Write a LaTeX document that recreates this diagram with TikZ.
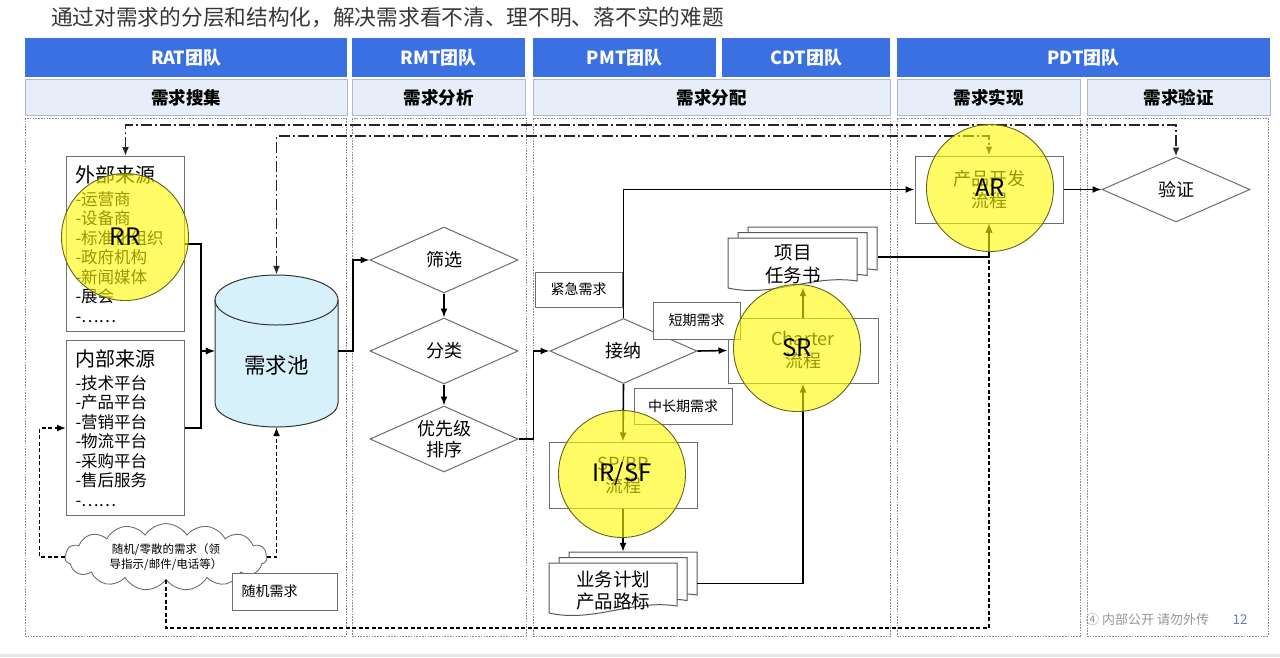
\documentclass[tikz,border=0pt]{standalone}
\usepackage{fontspec}
\setmainfont{Noto Sans CJK SC}
\usetikzlibrary{shapes.geometric,shapes.symbols,arrows.meta}
\newcommand\myfs[2]{\fontsize{#1}{#2}\selectfont}
\newcommand\docpage[4]{\draw[docline] (#1+#3,#2+#4-7) .. controls (#1+0.65*#3,#2+#4-14) and (#1+0.35*#3,#2+#4+10) .. (#1,#2+#4) -- (#1,#2) -- (#1+#3,#2) -- cycle;}
\definecolor{hblue}{RGB}{58,112,226}
\definecolor{sublight}{RGB}{231,238,250}
\definecolor{subborder}{RGB}{175,185,205}
\definecolor{framegray}{RGB}{140,140,140}
\definecolor{boxgray}{RGB}{110,110,110}
\definecolor{poolfill}{RGB}{214,241,250}
\definecolor{hlyellow}{RGB}{255,250,0}
\definecolor{hlborder}{RGB}{100,100,30}
\definecolor{titlegray}{RGB}{55,55,55}
\definecolor{footgray}{RGB}{150,150,150}
\definecolor{pagenum}{RGB}{100,130,180}
\definecolor{barcolor}{RGB}{232,232,232}
\tikzset{
 hdr/.style={fill=hblue, text=white, font=\myfs{18}{20}\bfseries, inner sep=0pt, anchor=north west},
 sub/.style={fill=sublight, draw=subborder, line width=0.8pt, font=\myfs{17.5}{20}\bfseries, inner sep=0pt, anchor=north west},
 colframe/.style={draw=framegray, line width=0.8pt, dash pattern=on 1.6pt off 1.2pt},
 srcbox/.style={draw=boxgray, line width=1pt, fill=white, text width=100pt, align=left, inner sep=9pt, anchor=north west, font=\myfs{16.5}{19.5}},
 dia/.style={diamond, aspect=2.2, draw=boxgray, line width=1pt, fill=white, minimum width=148pt, minimum height=66pt, inner sep=0pt, font=\myfs{18}{21}, align=center},
 proc/.style={draw=boxgray, line width=1pt, fill=white, inner sep=0pt, font=\myfs{18}{22}, align=center},
 lbl/.style={draw=boxgray, line width=1pt, fill=white, inner sep=0pt, font=\myfs{14}{16}},
 ghost/.style={inner sep=0pt},
 arr/.style={draw=black, line width=1.6pt, -{Latex[length=9pt,width=7pt]}},
 darr/.style={arr, dash pattern=on 4pt off 2.5pt},
 ddarr/.style={draw=black!85, line width=1.8pt, dash pattern=on 11pt off 3pt on 2pt off 3pt, {Latex[length=9pt,width=7pt]}-{Latex[length=9pt,width=7pt]}},
 hl/.style={circle, fill=hlyellow, fill opacity=0.6, text opacity=1, draw=hlborder, line width=0.9pt, minimum size=127pt, inner sep=0pt, font=\myfs{24}{26}},
 docline/.style={draw=boxgray!80!black, line width=1pt, fill=white},
 poolline/.style={draw=black!80, line width=1pt},
}
\begin{document}
\begin{tikzpicture}[x=1pt,y=-1pt]
\useasboundingbox (0,0) rectangle (1280,657);
\fill[white] (0,0) rectangle (1280,657);
\fill[barcolor] (0,654) rectangle (1280,657);

% title
\node[anchor=west, font=\myfs{21.7}{24}, text=titlegray, inner sep=0pt] (title) at (51,17) {通过对需求的分层和结构化，解决需求看不清、理不明、落不实的难题};

% header row 1
\node[hdr, minimum width=322pt, minimum height=39pt] (hRAT) at (25,38) {RAT团队};
\node[hdr, minimum width=173pt, minimum height=39pt] (hRMT) at (352,38) {RMT团队};
\node[hdr, minimum width=183pt, minimum height=39pt] (hPMT) at (533,38) {PMT团队};
\node[hdr, minimum width=168pt, minimum height=39pt] (hCDT) at (722,38) {CDT团队};
\node[hdr, minimum width=373pt, minimum height=39pt] (hPDT) at (897,38) {PDT团队};
% header row 2
\node[sub, minimum width=322pt, minimum height=36pt] (s1) at (25,79) {需求搜集};
\node[sub, minimum width=173pt, minimum height=36pt] (s2) at (352,79) {需求分析};
\node[sub, minimum width=357pt, minimum height=36pt] (s3) at (533,79) {需求分配};
\node[sub, minimum width=183pt, minimum height=36pt] (s4) at (897,79) {需求实现};
\node[sub, minimum width=183pt, minimum height=36pt] (s5) at (1087,79) {需求验证};

% column frames
\draw[colframe] (25,118) rectangle (346,636);
\draw[colframe] (352,118) rectangle (526,636);
\draw[colframe] (533,118) rectangle (890,636);
\draw[colframe] (897,118) rectangle (1080,636);
\draw[colframe] (1087,118) rectangle (1268,636);

% sources
\node[srcbox, minimum height=172pt] (ext) at (66,156) {{\myfs{20}{22}外部来源}\\[3.5pt]-运营商\\-设备商\\-标准化组织\\-政府机构\\-新闻媒体\\-展会\\-……};
\node[srcbox, minimum height=173pt] (int) at (66,340) {{\myfs{20}{22}内部来源}\\[3.5pt]-技术平台\\-产品平台\\-营销平台\\-物流平台\\-采购平台\\-售后服务\\-……};

% pool cylinder
\node[ghost, minimum width=123pt, minimum height=152pt] (pool) at (276.5,351) {};
\fill[poolfill] (215,300) -- (215,403) arc[start angle=180,end angle=360,x radius=61.5pt,y radius=24pt] -- (338,300) arc[start angle=0,end angle=180,x radius=61.5pt,y radius=25pt] -- cycle;
\draw[poolline] (215,300) -- (215,403) arc[start angle=180,end angle=360,x radius=61.5pt,y radius=24pt] -- (338,300);
\draw[poolline] (276.5,300) ellipse[x radius=61.5pt, y radius=25pt];
\node[font=\myfs{21.5}{24}] (pooltxt) at (276.5,365) {需求池};

% cloud
\node[cloud, cloud puffs=15, cloud puff arc=115, aspect=3.2, draw=boxgray, line width=0.9pt, fill=white, minimum width=202pt, minimum height=64pt, inner sep=0pt, align=center, font=\myfs{11.5}{15}] (cloud) at (166,557) {随机/零散的需求（领\\导指示/邮件/电话等）};

% analysis diamonds
\node[dia] (filter) at (444,260) {筛选};
\node[dia] (classify) at (444,351) {分类};
\node[dia] (prio) at (444,439) {优先级\\排序};

% allocation
\node[dia, minimum width=147pt, minimum height=65pt] (accept) at (623.5,351) {接纳};
\node[proc, minimum width=150pt, minimum height=65pt] (charter) at (803,350.5) {Charter\\流程};
\node[proc, minimum width=148pt, minimum height=66pt] (spbp) at (623,475) {SP/BP\\流程};

% task docs
\node[ghost, minimum width=150pt, minimum height=60pt] (task) at (803,257) {};
\docpage{748}{227}{129}{50}
\docpage{738}{232.5}{129}{50}
\docpage{728}{238}{129}{50}
\node[font=\myfs{18.5}{23}, align=center] (tasktxt) at (793,264) {项目\\任务书};

% plan docs
\node[ghost, minimum width=148pt, minimum height=63pt] (plan) at (623,583.5) {};
\docpage{569}{552}{128}{50}
\docpage{559}{557.5}{128}{50}
\docpage{549}{563}{128}{50}
\node[font=\myfs{18.5}{22}, align=center] (plantxt) at (613,591) {业务计划\\产品路标};

% realisation / verification
\node[proc, minimum width=148pt, minimum height=67pt] (dev) at (989,189.5) {产品开发\\流程};
\node[dia, minimum width=148pt, minimum height=65pt] (verify) at (1176,189.5) {验证};

% coordinates for routing
\coordinate (top1) at (600,125);
\coordinate (top2) at (600,136);
\coordinate (bot) at (500,628);

% solid connectors
\draw[arr] (ext.east) -- ++(16,0) |- (pool.west);
\draw[arr] (int.east) -- ++(16,0) |- (pool.west);
\draw[arr] (pool.east) -- ++(15,0) |- (filter.west);
\draw[arr] (filter.south) -- (classify.north);
\draw[arr] (classify.south) -- (prio.north);
\draw[arr] (prio.east) -- ++(15,0) |- (accept.west);
\draw[arr] (accept.north) |- (dev.west);
\draw[arr] (accept.east) -- (charter.west);
\draw[arr] (accept.south) -- (spbp.north);
\draw[arr] (spbp.south) -- (plan.north);
\draw[arr] (plan.east) -| (charter.south);
\draw[arr] (charter.north) -- (task.south);
\draw[arr] (task.east) -| (dev.south);
\draw[arr] (dev.east) -- (verify.west);

% dashed connectors
\draw[darr] (cloud.west) -- ++(-25,0) |- (int.west);
\draw[darr] (cloud.east) -| (pool.south);
\draw[darr] (cloud.south) |- (bot) -| (dev.south);

% dash-dot connectors
\draw[ddarr] (ext.north) |- (top1) -| (verify.north);
\draw[ddarr] (pool.north) |- (top2) -| (dev.north);

% label boxes
\node[lbl, minimum width=105pt, minimum height=37pt, text width=86pt, align=left] (rand) at (284.5,591.5) {随机需求};
\node[lbl, minimum width=87pt, minimum height=35pt] (urgent) at (578.5,289.5) {紧急需求};
\node[lbl, minimum width=87pt, minimum height=37pt] (short) at (696.5,320.5) {短期需求};
\node[lbl, minimum width=98pt, minimum height=36pt] (long) at (683,406) {中长期需求};

% highlight circles
\node[hl] (RR) at (125,237) {RR};
\node[hl] (SR) at (797,348) {SR};
\node[hl] (IRSF) at (622,474) {IR/SF};
\node[hl] (AR) at (990,188) {AR};

% footer
\node[anchor=west, font=\myfs{13}{15}, text=footgray, inner sep=0pt] (foot) at (1086,620) {④ 内部公开 请勿外传};
\node[font=\myfs{13.5}{15}, text=pagenum, inner sep=0pt] (pg) at (1240,620) {12};
\end{tikzpicture}
\end{document}
